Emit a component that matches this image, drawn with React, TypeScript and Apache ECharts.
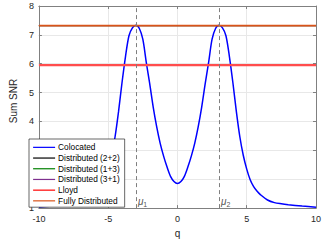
import React, { useEffect, useRef } from "react";
import * as echarts from "echarts";

const qValues = [
  -10, -9, -8, -7.5, -7, -6.5, -6, -5.75, -5.5, -5.25, -5, -4.75, -4.5, -4.25, -4, -3.75, -3.5, -3.25, -3,
  -2.75, -2.5, -2.25, -2, -1.75, -1.5, -1.25, -1, -0.75, -0.5, -0.25, 0,
  0.25, 0.5, 0.75, 1, 1.25, 1.5, 1.75, 2, 2.25, 2.5, 2.75, 3,
  3.25, 3.5, 3.75, 4, 4.25, 4.5, 4.75, 5, 5.25, 5.5, 5.75, 6, 6.5, 7, 7.5, 8, 9, 10,
];
const colocatedSNR = [
  1.03, 1.07, 1.12, 1.15, 1.19, 1.28, 1.46, 1.58, 1.74, 1.98, 2.35, 2.83, 3.48, 4.35, 5.35, 6.25, 6.97, 7.24, 7.33,
  7.22, 6.85, 6.05, 5.3, 4.5, 3.82, 3.25, 2.8, 2.42, 2.1, 1.92, 1.85,
  1.92, 2.1, 2.42, 2.8, 3.25, 3.82, 4.5, 5.3, 6.05, 6.85, 7.22, 7.33,
  7.24, 6.97, 6.25, 5.35, 4.35, 3.48, 2.83, 2.35, 1.98, 1.74, 1.58, 1.46, 1.28, 1.19, 1.15, 1.12, 1.07, 1.03,
];
const distributed22SNR = 7.32;
const distributed13SNR = 7.32;
const distributed31SNR = 7.32;
const lloydSNR = 5.95;
const fullyDistributedSNR = 7.32;
const qRange = [-10, 10];
const muPositions = [-3, 3];
const muSubscripts = ["1", "2"];
const seriesNames = [
  "Colocated",
  "Distributed (2+2)",
  "Distributed (1+3)",
  "Distributed (3+1)",
  "Lloyd",
  "Fully Distributed",
];
const seriesColors = ["#0000ff", "#000000", "#008000", "#7e2f8e", "#ff0000", "#d95319"];

const FONT = "'Liberation Sans', Arial, Helvetica, sans-serif";
const AXIS_COLOR = "#808080";
const TEXT_COLOR = "#262626";

export default function App() {
  const ref = useRef<HTMLDivElement>(null);
  useEffect(() => {
    if (!ref.current) return;
    const chart = echarts.init(ref.current, undefined, { renderer: "svg" });
    const hLine = (v: number) => qRange.map((q) => [q, v]);
    const baseAxis = {
      type: "value" as const,
      axisLine: { show: true, onZero: false, lineStyle: { color: AXIS_COLOR, width: 1 } },
      axisTick: { show: true, inside: true, length: 3, lineStyle: { color: AXIS_COLOR, width: 1 } },
    };
    const option: any = {
      animation: false,
      textStyle: { fontFamily: FONT },
      grid: { left: 24, right: 6, top: 6, bottom: 30.5 },
      xAxis: [
        {
          ...baseAxis,
          position: "bottom",
          min: -10,
          max: 10,
          interval: 5,
          axisLabel: { color: TEXT_COLOR, fontSize: 9, fontFamily: FONT, margin: 6 },
          splitLine: { show: true, lineStyle: { color: "#e8e8e8", width: 1 } },
          name: "q",
          nameLocation: "middle",
          nameGap: 18,
          nameTextStyle: { color: TEXT_COLOR, fontSize: 10, fontFamily: FONT },
        },
        {
          ...baseAxis,
          position: "top",
          min: -10,
          max: 10,
          interval: 5,
          axisLabel: { show: false },
          splitLine: { show: false },
        },
      ],
      yAxis: [
        {
          ...baseAxis,
          position: "left",
          min: 1,
          max: 8,
          interval: 1,
          axisLabel: { color: TEXT_COLOR, fontSize: 9, fontFamily: FONT, margin: 5 },
          splitLine: { show: true, lineStyle: { color: "#e8e8e8", width: 1 } },
          name: "Sum SNR",
          nameLocation: "middle",
          nameGap: 12,
          nameTextStyle: { color: TEXT_COLOR, fontSize: 10, fontFamily: FONT, padding: [0, 0, 0, 12] },
        },
        {
          ...baseAxis,
          position: "right",
          min: 1,
          max: 8,
          interval: 1,
          axisLabel: { show: false },
          splitLine: { show: false },
        },
      ],
      legend: {
        orient: "vertical",
        left: 29,
        top: 139,
        padding: [3, 5, 1, 3.5],
        backgroundColor: "#ffffff",
        borderColor: "#262626",
        borderWidth: 0.7,
        borderRadius: 0,
        itemWidth: 22,
        itemHeight: 8,
        itemGap: 0,
        textStyle: { fontSize: 8.3, color: "#000", fontFamily: FONT, lineHeight: 10.7, padding: [0, 0, 0, -2] },
        data: seriesNames.map((n, i) => ({
          name: n,
          lineStyle: { width: 1.2, color: seriesColors[i], opacity: 1 },
          itemStyle: { color: "rgba(0,0,0,0)", borderWidth: 0, opacity: 0 },
        })),
      },
      series: [
        {
          name: seriesNames[0],
          type: "line",
          data: qValues.map((q, i) => [q, colocatedSNR[i]]),
          symbol: "none",
          smooth: 0.3,
          lineStyle: { color: seriesColors[0], width: 1.5 },
          itemStyle: { color: seriesColors[0] },
          z: 2,
        },
        {
          name: seriesNames[1],
          type: "line",
          data: hLine(distributed22SNR),
          symbol: "none",
          lineStyle: { color: seriesColors[1], width: 1 },
          itemStyle: { color: seriesColors[1] },
          z: 2,
        },
        {
          name: seriesNames[2],
          type: "line",
          data: hLine(distributed13SNR),
          symbol: "none",
          lineStyle: { color: seriesColors[2], width: 1 },
          itemStyle: { color: seriesColors[2] },
          z: 2,
        },
        {
          name: seriesNames[3],
          type: "line",
          data: hLine(distributed31SNR),
          symbol: "none",
          lineStyle: { color: seriesColors[3], width: 1 },
          itemStyle: { color: seriesColors[3] },
          z: 2,
        },
        {
          name: seriesNames[4],
          type: "line",
          data: hLine(lloydSNR),
          symbol: "none",
          lineStyle: { color: "#ff4d4d", width: 2.2 },
          itemStyle: { color: seriesColors[4] },
          z: 3,
        },
        {
          name: seriesNames[5],
          type: "line",
          data: hLine(fullyDistributedSNR),
          symbol: "none",
          lineStyle: { color: seriesColors[5], width: 1.6 },
          itemStyle: { color: seriesColors[5] },
          z: 3,
        },
        {
          name: "mu",
          type: "scatter",
          data: muPositions.map((m, i) => ({ value: [m, 1.22], sub: muSubscripts[i] })),
          symbolSize: 0,
          silent: true,
          z: 4,
          label: {
            show: true,
            position: "right",
            distance: 2,
            formatter: (p: any) => `{m|\u03bc}{s|${p.data.sub}}`,
            rich: {
              m: { fontStyle: "italic", fontSize: 10, color: TEXT_COLOR, fontFamily: FONT },
              s: { fontSize: 7, color: TEXT_COLOR, fontFamily: FONT, padding: [5, 0, 0, 0] },
            },
          },
          markLine: {
            silent: true,
            symbol: "none",
            label: { show: false },
            lineStyle: { type: [4, 3], color: "#7f7f7f", width: 1 },
            data: muPositions.map((m) => ({ xAxis: m })),
          },
        },
      ],
    };
    chart.setOption(option);
    return () => chart.dispose();
  }, []);
  return (
    <div
      ref={ref}
      style={{ position: "fixed", left: 0, top: 0, width: 324, height: 243, background: "#fff" }}
    />
  );
}
